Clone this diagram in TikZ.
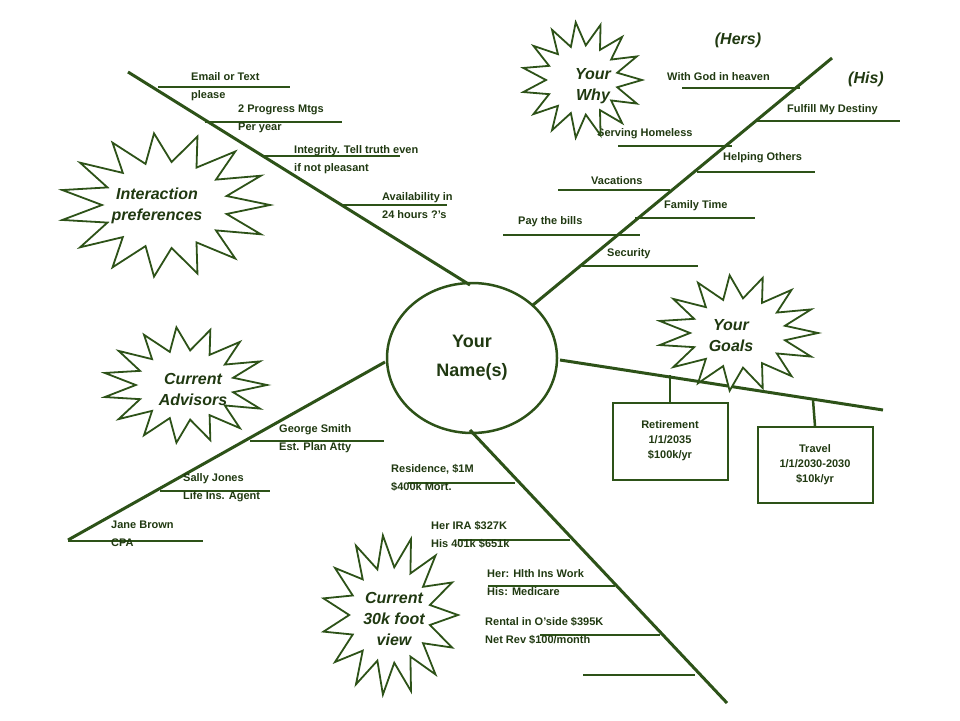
\documentclass[tikz,border=0pt]{standalone}
\usepackage{fontspec}
\setmainfont{Liberation Sans}
\usetikzlibrary{shapes.geometric}
\begin{document}
\definecolor{dg}{RGB}{45,82,24}
\begin{tikzpicture}[x=1pt,y=-1pt,
 main/.style={draw=dg,line width=3pt},
 tick/.style={draw=dg,line width=2.5pt},
 lab/.style={text=dg!70!black,font=\bfseries\fontsize{11}{18}\selectfont,align=left,anchor=north west,inner sep=0pt},
 big/.style={text=dg!70!black,font=\bfseries\itshape\fontsize{16}{21}\selectfont,align=center},
 burst/.style={draw=dg,line width=1.8pt,fill=white},
 box/.style={draw=dg,line width=2pt,fill=white,minimum width=115pt,text=dg!70!black,font=\bfseries\fontsize{11}{15}\selectfont,align=center}]
\useasboundingbox (0,0) rectangle (960,720);
\newcommand\burst[5]{\draw[burst] plot[samples=31,domain=0:360,variable=\t]
 ({#1+#3*(mod(round(\t/#5),2)==0?1:0.6)*cos(\t)},{#2+#4*(mod(round(\t/#5),2)==0?1:0.6)*sin(\t)}) -- cycle;}
% center
\node[draw=dg,line width=2.5pt,ellipse,minimum width=170pt,minimum height=150pt,text=dg!70!black,font=\bfseries\fontsize{18}{29}\selectfont,align=center] (c) at (472,358) {Your\\Name(s)};
% main bones
\coordinate (ul) at (128,72); \coordinate (ulc) at (470,285);
\coordinate (ur) at (832,58); \coordinate (urc) at (533,305);
\coordinate (r) at (883,410); \coordinate (rc) at (560,360);
\coordinate (ll) at (68,540); \coordinate (llc) at (385,362);
\coordinate (lr) at (727,703); \coordinate (lrc) at (470,430);
\draw[main] (ul)--(ulc); \draw[main] (urc)--(ur); \draw[main] (rc)--(r);
\draw[main] (llc)--(ll); \draw[main] (lrc)--(lr);
% upper left ticks
\draw[tick] (158,87)--(290,87); \node[lab] at (191,72) {Email or Text\\please};
\draw[tick] (205,122)--(342,122); \node[lab] at (238,105) {2 Progress Mtgs\\Per year};
\draw[tick] (262,156)--(400,156); \node[lab] at (294,145) {Integrity. Tell truth even\\if not pleasant};
\draw[tick] (340,205)--(447,205); \node[lab] at (382,192) {Availability in\\24 hours ?'s};
% upper right ticks
\draw[tick] (682,88)--(800,88); \node[lab] at (667,72) {With God in heaven};
\draw[tick] (757,121)--(900,121); \node[lab] at (787,104) {Fulfill My Destiny};
\draw[tick] (618,146)--(732,146); \node[lab] at (597,128) {Serving Homeless};
\draw[tick] (697,172)--(815,172); \node[lab] at (723,152) {Helping Others};
\draw[tick] (558,190)--(670,190); \node[lab] at (591,176) {Vacations};
\draw[tick] (635,218)--(755,218); \node[lab] at (664,200) {Family Time};
\draw[tick] (503,235)--(640,235); \node[lab] at (518,216) {Pay the bills};
\draw[tick] (582,266)--(698,266); \node[lab] at (607,248) {Security};
\node[big] at (738,40) {(Hers)}; \node[big] at (866,79) {(His)};
% right boxes
\node[box,minimum height=77pt] (b1) at (670,441) {Retirement\\1/1/2035\\\$100k/yr};
\node[box,minimum height=76pt] (b2) at (815,465) {Travel\\1/1/2030-2030\\\$10k/yr};
\draw[tick] (670,375)--(b1.north); \draw[tick] (813,400)--(b2.north);
% lower left ticks
\draw[tick] (250,441)--(384,441); \node[lab] at (279,424) {George Smith\\Est. Plan Atty};
\draw[tick] (160,491)--(270,491); \node[lab] at (183,473) {Sally Jones\\Life Ins. Agent};
\draw[tick] (68,541)--(203,541); \node[lab] at (111,521) {Jane Brown\\CPA};
% lower right ticks
\draw[tick] (408,483)--(515,483); \node[lab] at (391,464) {Residence, \$1M\\\$400k Mort.};
\draw[tick] (458,540)--(570,540); \node[lab] at (431,521) {Her IRA \$327K\\His 401k \$651k};
\draw[tick] (488,586)--(615,586); \node[lab] at (487,569) {Her: Hlth Ins Work\\His: Medicare};
\draw[tick] (540,635)--(660,635); \node[lab] at (485,617) {Rental in O'side \$395K\\Net Rev \$100/month};
\draw[tick] (583,675)--(695,675);
% bursts
\burst{165}{205}{105}{72}{12}
\node[big] at (157,206) {Interaction\\preferences};
\burst{582}{80}{60}{58}{12}
\node[big] at (593,86) {Your\\Why};
\burst{738}{333}{80}{58}{12}
\node[big] at (731,336) {Your\\Goals};
\burst{185}{385}{82}{58}{12}
\node[big] at (193,389) {Current\\Advisors};
\burst{390}{615}{68}{80}{12}
\node[big] at (394,619) {Current\\30k foot\\view};
\end{tikzpicture}
\end{document}
